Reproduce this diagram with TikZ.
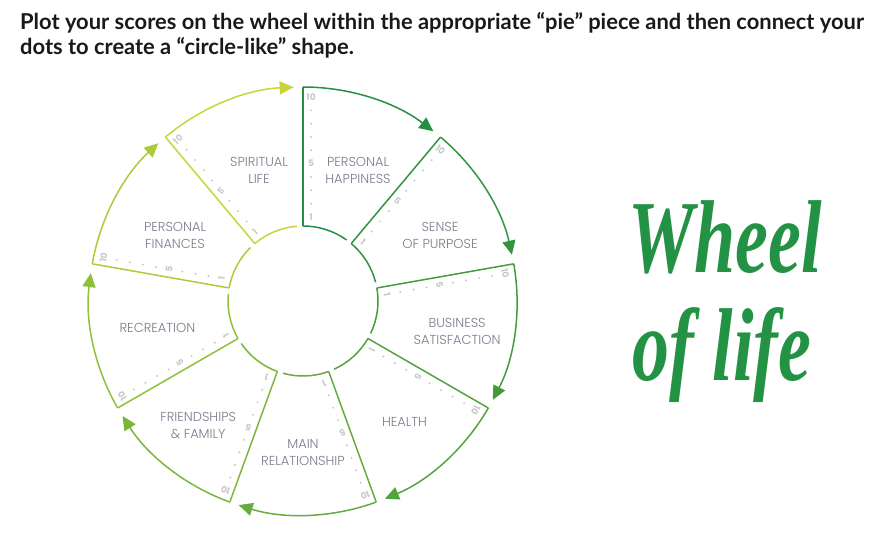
\documentclass[tikz,border=0pt]{standalone}
\usepackage{fontspec}
\usepackage{tikz}
\usetikzlibrary{arrows.meta, calc, positioning}
\newfontfamily\segfont{Poppins Light}
\newfontfamily\numfont{Poppins}
\newfontfamily\titlefont{Lato}
\newfontfamily\handfont{Liberation Serif}
\definecolor{labelgray}{RGB}{122,122,140}
\definecolor{scalegray}{RGB}{200,200,200}
\definecolor{handgreen}{RGB}{36,146,68}
\definecolor{c0}{RGB}{198,214,58}
\definecolor{c1}{RGB}{38,142,66}
\definecolor{c2}{RGB}{48,148,64}
\definecolor{c3}{RGB}{66,156,62}
\definecolor{c4}{RGB}{84,164,60}
\definecolor{c5}{RGB}{102,172,60}
\definecolor{c6}{RGB}{122,182,58}
\definecolor{c7}{RGB}{144,192,58}
\definecolor{c8}{RGB}{168,204,58}

\begin{document}
\begin{tikzpicture}[x=1pt, y=1pt, every node/.style={font=\segfont\fontsize{13}{17}\selectfont, text=labelgray, align=center},
    rim/.style={line width=1.5pt},
    titleline/.style={anchor=base west, text=black!90, font=\titlefont\bfseries\fontsize{21.9}{25}\selectfont, inner sep=0pt},
    scalenum/.style={font=\numfont\bfseries\fontsize{9}{9}\selectfont, text=scalegray, inner sep=0pt}]
		\useasboundingbox (0,0) rectangle (878,549);
		\coordinate (C) at (303,248); % centre of the wheel
		\node[titleline] (title1) at (20,519) {Plot your scores on the wheel within the appropriate “pie” piece and then connect your};
		\node[titleline] (title2) at (20,494) {dots to create a “circle-like” shape.};
		\foreach \k/\col/\ang/\rad/\lab in {0/c0/108.6/138/{SPIRITUAL\\LIFE}, 1/c1/67.2/142/{PERSONAL\\HAPPINESS},
				2/c2/25.7/152/{SENSE\\OF PURPOSE}, 3/c3/-11/157/{BUSINESS\\SATISFACTION}, 4/c4/-50/158/{HEALTH},
				5/c5/-90/152/{MAIN\\RELATIONSHIP}, 6/c6/-130/163/{FRIENDSHIPS\\\& FAMILY}, 7/c7/-169.5/148/{RECREATION},
				8/c8/153/143.6/{PERSONAL\\FINANCES}} {
				\pgfmathsetmacro\a{130-40*\k}
				\coordinate (in\k) at ($(C)+(\a:75)$);
				\coordinate (out\k) at ($(C)+(\a:214)$);
				\draw[rim, \col] (in\k) -- (out\k);
				\draw[rim, \col, -{Triangle[length=14pt,width=13pt]}] (out\k) arc[start angle=\a, end angle=\a-37.5, radius=214pt];
				\draw[rim, \col] (in\k) arc[start angle=\a, end angle=\a-35.5, radius=75pt];
				\node (seg\k) at ($(C)+(\ang:\rad)$) {\lab};
				\foreach \i in {1,...,10} {
						\pgfmathsetmacro\r{84+(\i-1)*13.33}
						\ifnum\i=1
							\node[scalenum, rotate=\a-90] (s\k-\i) at ($(C)+(\a:\r)+(\a-90:8)$) {\i};
						\else\ifnum\i=5
							\node[scalenum, rotate=\a-90] (s\k-\i) at ($(C)+(\a:\r)+(\a-90:8)$) {\i};
						\else\ifnum\i=10
							\node[scalenum, rotate=\a-90] (s\k-\i) at ($(C)+(\a:\r)+(\a-90:8)$) {\i};
						\else
							\fill[scalegray] ($(C)+(\a:\r)+(\a-90:8)$) circle (1.1pt);
						\fi\fi\fi
					}
			}
		\node[font=\handfont\bfseries\itshape\fontsize{74}{80}\selectfont, text=handgreen] (wheel) at (725,312) {\scalebox{1}[1.4]{Wheel}};
		\node[font=\handfont\bfseries\itshape\fontsize{74}{80}\selectfont, text=handgreen] (oflife) at (722,194) {\scalebox{1}[1.4]{of life}};
	\end{tikzpicture}
\end{document}
